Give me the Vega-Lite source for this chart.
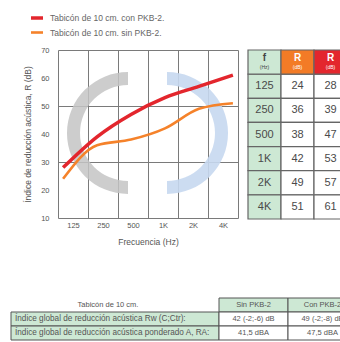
{
  "$schema": "https://vega.github.io/schema/vega-lite/v6.json",
  "background": "white",
  "padding": {"left": 10, "top": 10, "right": 0, "bottom": 0},
  "config": {
    "font": "Liberation Sans",
    "view": {"stroke": null},
    "axis": {"labelColor": "#555555", "titleColor": "#555555", "titleFontWeight": "normal"}
  },
  "datasets": {
    "espectro": [
      {"f": "125", "sin": 24, "con": 28},
      {"f": "250", "sin": 36, "con": 39},
      {"f": "500", "sin": 38, "con": 47},
      {"f": "1K", "sin": 42, "con": 53},
      {"f": "2K", "sin": 49, "con": 57},
      {"f": "4K", "sin": 51, "con": 61}
    ],
    "cabecera": [
      {"fila": "h", "col": "f", "t": "f", "s": "(Hz)"},
      {"fila": "h", "col": "sin", "t": "R", "s": "(dB)"},
      {"fila": "h", "col": "con", "t": "R", "s": "(dB)"}
    ],
    "resumen": [
      {"fila": "Tabicón de 10 cm.", "tipo": "h", "sin": "Sin PKB-2", "con": "Con PKB-2"},
      {"fila": "Índice global de reducción acústica Rw (C;Ctr):", "tipo": "d", "sin": "42 (-2;-6) dB", "con": "49 (-2;-8) dB"},
      {"fila": "Índice global de reducción acústica ponderado A, RA:", "tipo": "d", "sin": "41,5 dBA", "con": "47,5 dBA"}
    ]
  },
  "spacing": 51,
  "vconcat": [
    {
      "spacing": 10,
      "bounds": "flush",
      "hconcat": [
        {
          "width": 37,
          "height": 168,
          "data": {"name": "espectro"},
          "transform": [{"fold": ["con", "sin"], "as": ["serie", "R"]}],
          "mark": {"type": "point", "opacity": 0},
          "encoding": {
            "y": {
              "field": "R", "type": "quantitative",
              "scale": {"domain": [10, 70], "nice": false, "zero": false},
              "axis": {
                "orient": "left", "offset": -38,
                "values": [10, 20, 30, 40, 50, 60, 70],
                "grid": false, "domain": false, "ticks": false, "tickSize": 0,
                "labelPadding": 0, "labelFontSize": 7.5,
                "title": "Índice de reducción acústica, R (dB)",
                "titleFontSize": 8.5, "titlePadding": 8
              }
            }
          }
        },
        {
          "width": 180,
          "height": 168,
          "data": {"name": "espectro"},
          "layer": [
            {
              "data": {"values": [{"logo": "gris"}]},
              "mark": {"type": "arc", "theta": 3.1416, "theta2": 6.2832, "innerRadius": 48, "outerRadius": 61, "fill": "#c4c4c4", "opacity": 0.85, "xOffset": -20, "yOffset": -1},
              "encoding": {}
            },
            {
              "data": {"values": [{"logo": "azul"}]},
              "mark": {"type": "arc", "theta": 0, "theta2": 3.1416, "innerRadius": 48, "outerRadius": 61, "fill": "#c6d8f0", "opacity": 0.9, "xOffset": 19, "yOffset": -1},
              "encoding": {}
            },
            {
              "mark": {"type": "point", "opacity": 0},
              "encoding": {
                "x": {
                  "field": "f", "type": "ordinal", "sort": null,
                  "scale": {"type": "band", "paddingInner": 0, "paddingOuter": 0},
                  "axis": {
                    "tickBand": "extent", "grid": true, "gridColor": "#7a7a7a", "gridWidth": 1,
                    "ticks": false, "tickSize": 0, "domain": false, "labelAngle": 0,
                    "labelFontSize": 7.5, "labelPadding": 3,
                    "title": "Frecuencia (Hz)", "titleFontSize": 8.5, "titlePadding": 9
                  }
                },
                "y": {
                  "field": "con", "type": "quantitative",
                  "scale": {"domain": [10, 70], "nice": false, "zero": false},
                  "axis": {"values": [10, 20, 30, 40, 50, 60, 70], "grid": true, "gridColor": "#7a7a7a", "gridWidth": 1, "labels": false, "ticks": false, "domain": false, "title": null}
                }
              }
            },
            {
              "transform": [{"fold": ["con", "sin"], "as": ["serie", "R"]}],
              "mark": {"type": "line", "interpolate": "monotone"},
              "encoding": {
                "x": {"field": "f", "type": "ordinal", "sort": null, "scale": {"type": "point", "padding": 0.15}, "axis": null},
                "y": {"field": "R", "type": "quantitative", "scale": {"domain": [10, 70], "nice": false, "zero": false}},
                "color": {
                  "field": "serie", "type": "nominal",
                  "scale": {"domain": ["con", "sin"], "range": ["#e3262d", "#f5822a"]},
                  "legend": {
                    "orient": "none", "legendX": 18, "legendY": -40, "title": null,
                    "symbolType": "stroke", "symbolSize": 144, "symbolStrokeWidth": 4,
                    "labelFontSize": 8.5, "labelColor": "#666666", "labelOffset": 5,
                    "rowPadding": 0, "padding": 0,
                    "labelExpr": "datum.value == 'con' ? 'Tabicón de 10 cm. con PKB-2.' : 'Tabicón de 10 cm. sin PKB-2.'"
                  }
                },
                "strokeWidth": {"field": "serie", "type": "nominal", "scale": {"domain": ["con", "sin"], "range": [3.5, 2.6]}, "legend": null}
              }
            }
          ],
          "resolve": {"scale": {"x": "independent"}, "axis": {"x": "independent"}}
        },
        {
          "width": 99,
          "height": 169,
          "layer": [
            {
              "data": {"name": "espectro"},
              "transform": [{"fold": ["f", "sin", "con"], "as": ["col", "valor"]}],
              "layer": [
                {
                  "mark": {"type": "rect", "stroke": "#666666", "strokeWidth": 1.2},
                  "encoding": {
                    "fill": {"condition": {"test": "datum.col == 'f'", "value": "#cde8d4"}, "value": "#ffffff"}
                  }
                },
                {
                  "mark": {"type": "text", "fontSize": 11, "color": "#4a4a4a"},
                  "encoding": {"text": {"field": "valor"}}
                }
              ],
              "encoding": {
                "x": {"field": "col", "type": "nominal", "scale": {"domain": ["f", "sin", "con"], "paddingInner": 0, "paddingOuter": 0}, "axis": null},
                "y": {"field": "f", "type": "nominal", "scale": {"domain": ["h", "125", "250", "500", "1K", "2K", "4K"], "paddingInner": 0, "paddingOuter": 0}, "axis": null}
              }
            },
            {
              "data": {"name": "cabecera"},
              "layer": [
                {
                  "mark": {"type": "rect", "stroke": "#666666", "strokeWidth": 1.2},
                  "encoding": {
                    "fill": {"condition": [{"test": "datum.col == 'f'", "value": "#cde8d4"}, {"test": "datum.col == 'sin'", "value": "#f37b26"}], "value": "#e3262d"}
                  }
                },
                {
                  "mark": {"type": "text", "fontSize": 10, "fontWeight": "bold", "yOffset": -4},
                  "encoding": {
                    "text": {"field": "t"},
                    "color": {"condition": {"test": "datum.col == 'f'", "value": "#444444"}, "value": "#ffffff"}
                  }
                },
                {
                  "mark": {"type": "text", "fontSize": 5, "yOffset": 5},
                  "encoding": {
                    "text": {"field": "s"},
                    "color": {"condition": {"test": "datum.col == 'f'", "value": "#444444"}, "value": "#ffffff"}
                  }
                }
              ],
              "encoding": {
                "x": {"field": "col", "type": "nominal", "scale": {"domain": ["f", "sin", "con"], "paddingInner": 0, "paddingOuter": 0}, "axis": null},
                "y": {"field": "fila", "type": "nominal", "scale": {"domain": ["h", "125", "250", "500", "1K", "2K", "4K"], "paddingInner": 0, "paddingOuter": 0}, "axis": null}
              }
            }
          ]
        }
      ]
    },
    {
      "spacing": 0,
      "bounds": "flush",
      "hconcat": [
        {
          "width": 208,
          "height": 42,
          "data": {"name": "resumen"},
          "encoding": {
            "y": {
              "field": "fila", "type": "nominal",
              "scale": {"domain": ["Tabicón de 10 cm.", "Índice global de reducción acústica Rw (C;Ctr):", "Índice global de reducción acústica ponderado A, RA:"], "paddingInner": 0, "paddingOuter": 0},
              "axis": null
            }
          },
          "layer": [
            {
              "transform": [{"filter": "datum.tipo == 'd'"}],
              "mark": {"type": "rect", "fill": "#cde8d4", "stroke": "#555555", "strokeWidth": 1}
            },
            {
              "transform": [{"filter": "datum.tipo == 'd'"}],
              "mark": {"type": "text", "align": "left", "dx": 4, "fontSize": 8.2, "color": "#555555"},
              "encoding": {
                "x": {"datum": 0, "type": "quantitative", "scale": {"domain": [0, 1]}, "axis": null},
                "text": {"field": "fila"}
              }
            },
            {
              "transform": [{"filter": "datum.tipo == 'h'"}],
              "mark": {"type": "text", "align": "center", "dx": -7, "fontSize": 7.5, "color": "#555555"},
              "encoding": {
                "text": {"field": "fila"}
              }
            }
          ]
        },
        {
          "width": 138,
          "height": 42,
          "data": {"name": "resumen"},
          "transform": [{"fold": ["sin", "con"], "as": ["col", "valor"]}],
          "encoding": {
            "x": {"field": "col", "type": "nominal", "scale": {"domain": ["sin", "con"], "paddingInner": 0, "paddingOuter": 0}, "axis": null},
            "y": {
              "field": "fila", "type": "nominal",
              "scale": {"domain": ["Tabicón de 10 cm.", "Índice global de reducción acústica Rw (C;Ctr):", "Índice global de reducción acústica ponderado A, RA:"], "paddingInner": 0, "paddingOuter": 0},
              "axis": null
            }
          },
          "layer": [
            {
              "mark": {"type": "rect", "stroke": "#555555", "strokeWidth": 1},
              "encoding": {
                "fill": {"condition": {"test": "datum.tipo == 'h'", "value": "#cde8d4"}, "value": "#ffffff"}
              }
            },
            {
              "mark": {"type": "text", "fontSize": 7.5, "color": "#555555"},
              "encoding": {"text": {"field": "valor"}}
            }
          ]
        }
      ]
    }
  ]
}
